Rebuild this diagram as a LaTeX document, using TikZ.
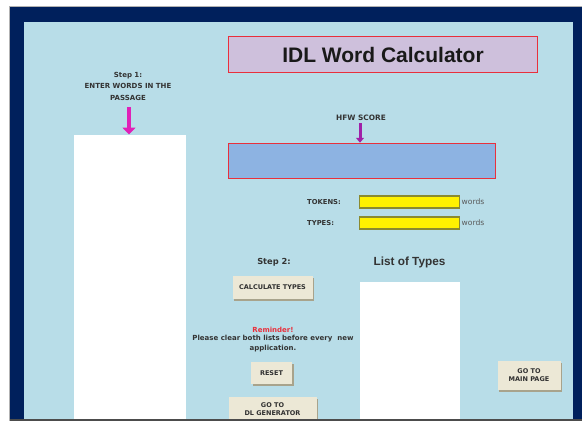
\documentclass[tikz,border=0pt]{standalone}
\usepackage{fontspec}
\setmainfont{Liberation Sans}
\newfontfamily\uifont{DejaVu Sans}
\usetikzlibrary{arrows.meta,shadows}

\definecolor{navy}{HTML}{00205C}
\definecolor{panel}{HTML}{B8DDE8}
\definecolor{lavender}{HTML}{CEC0DC}
\definecolor{scoreblue}{HTML}{8DB3E2}
\definecolor{alertred}{HTML}{E8303C}
\definecolor{olive}{HTML}{8A8A30}
\definecolor{btnface}{HTML}{ECE8D6}
\definecolor{btnshade}{HTML}{A8A38C}
\definecolor{btntext}{HTML}{303030}
\definecolor{magenta2}{HTML}{E020B8}
\definecolor{purple2}{HTML}{A020A8}

\tikzset{
  x=1pt, y=-1pt,
  lbl/.style={font=\uifont\fontsize{7}{11.5}\selectfont\bfseries, text=black!80, align=center, inner sep=0pt},
  field/.style={fill=yellow, draw=olive, line width=1.2pt},
  button/.style={fill=btnface, draw=none, align=center, inner sep=0pt,
    font=\uifont\fontsize{6.5}{8}\selectfont\bfseries, text=btntext,
    drop shadow={shadow xshift=1.6pt, shadow yshift=-1.8pt, fill=btnshade, opacity=1}},
  bigarrow/.style={line width=4.5pt, draw=magenta2, -{Triangle[width=13pt,length=7pt]}},
  smallarrow/.style={line width=3pt, draw=purple2, -{Triangle[width=8pt,length=5pt]}},
}

\begin{document}
\begin{tikzpicture}
\useasboundingbox (0,0) rectangle (582,421);
\clip (0,0) rectangle (582,421);

% page background and window frame
\fill[white] (0,0) rectangle (582,421);
\fill[gray!60] (9,5.5) rectangle (582,421);
\fill[navy] (10,7) rectangle (582,421);
\fill[panel] (24,22) rectangle (573,421);

% title banner
\node[draw=alertred, line width=1.5pt, fill=lavender, minimum width=309pt, minimum height=36pt,
      font=\fontsize{21}{23}\selectfont\bfseries, text=black!90]
  (title) at (383,54.5) {IDL Word Calculator};

% step 1 and the passage input list
\node[lbl] (step1) at (128,86) {Step 1:\\ENTER WORDS IN THE\\PASSAGE};
\fill[white] (73.5,134.5) rectangle (186,419);
\coordinate (passtop) at (129,134.5);
\coordinate (arrowtail1) at (129,107);
\draw[bigarrow] (arrowtail1) -- (passtop);

% HFW score display
\node[lbl, font=\uifont\fontsize{7.4}{9}\selectfont\bfseries] (hfwlbl) at (361,118) {HFW SCORE};
\node[draw=alertred, line width=1.5pt, fill=scoreblue, minimum width=267pt, minimum height=35pt]
  (score) at (362,161) {};
\coordinate (arrowtail2) at (360,123);
\draw[smallarrow] (arrowtail2) -- (score.north -| arrowtail2);

% token and type counters
\node[lbl, anchor=west, font=\uifont\fontsize{6.8}{8}\selectfont\bfseries] (toklbl) at (307,202) {TOKENS:};
\node[field, minimum width=100pt, minimum height=12pt, inner sep=0pt] (tokens) at (409.5,202) {};
\node[lbl, anchor=west, font=\uifont\fontsize{7.6}{8}\selectfont, text=black!65] (tokunit) at (461.5,202) {words};
\node[lbl, anchor=west, font=\uifont\fontsize{6.8}{8}\selectfont\bfseries] (typlbl) at (307,223) {TYPES:};
\node[field, minimum width=100pt, minimum height=12pt, inner sep=0pt] (types) at (409.5,223) {};
\node[lbl, anchor=west, font=\uifont\fontsize{7.6}{8}\selectfont, text=black!65] (typunit) at (461.5,223) {words};

% step 2 controls
\node[lbl, font=\uifont\fontsize{8.3}{10}\selectfont\bfseries] (step2) at (274,262) {Step 2:};
\node[button, minimum width=80pt, minimum height=23pt] (calc) at (272.5,287.5) {CALCULATE TYPES};

% list of types output
\node[lbl, font=\fontsize{11.8}{13}\selectfont\bfseries] (listlbl) at (409.5,262) {List of Types};
\fill[white] (360,282) rectangle (459.5,419);

% reminder note
\node[lbl, text=alertred, font=\uifont\fontsize{7}{8}\selectfont\bfseries] (remind) at (273,330) {Reminder!};
\node[lbl, font=\uifont\fontsize{7}{10}\selectfont\bfseries] (note) at (273,344)
  {Please clear both lists before every\ \ new\\application.};

% navigation buttons
\node[button, minimum width=41pt, minimum height=22pt] (reset) at (271.5,373) {RESET};
\node[button, minimum width=88pt, minimum height=24pt] (dlgen) at (272.5,409) {GO TO\\DL GENERATOR};
\node[button, minimum width=63pt, minimum height=29pt] (mainpage) at (529,375.5) {GO TO\\MAIN PAGE};

% lower window edge drawn over the controls
\fill[black!70] (10,418.5) rectangle (582,421);
\end{tikzpicture}
\end{document}
